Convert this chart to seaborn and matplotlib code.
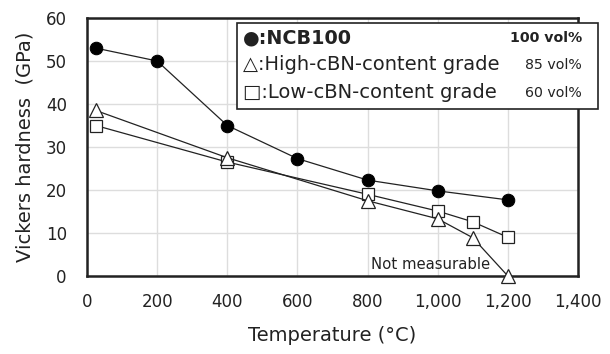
import matplotlib
matplotlib.use("Agg")
import matplotlib.pyplot as plt
import seaborn as sns
import pandas as pd
from matplotlib.patches import Rectangle

# Data
ncb_x = [25, 200, 400, 600, 800, 1000, 1200]
ncb_y = [53, 50, 35, 27.3, 22.3, 19.8, 17.7]
high_x = [25, 400, 800, 1000, 1100, 1200]
high_y = [38.5, 27.5, 17.5, 13.3, 8.9, 0]
low_x = [25, 400, 800, 1000, 1100, 1200]
low_y = [35, 26.5, 19, 15.1, 12.6, 9]
x_ticks = [0, 200, 400, 600, 800, 1000, 1200, 1400]
x_ticklabels = ["0", "200", "400", "600", "800", "1,000", "1,200", "1,400"]
y_ticks = [0, 10, 20, 30, 40, 50, 60]

sns.set_theme(style="white")
plt.rcParams['font.family'] = ['DejaVu Sans']

fig = plt.figure(figsize=(6.1, 3.54), dpi=100)
ax = fig.add_axes([87/610, 1-276/354, (578-87)/610, (276-18)/354])

ax.set_axisbelow(True)
ax.grid(True, color="#dddddd", linewidth=1.0)

df_ncb = pd.DataFrame({"x": ncb_x, "y": ncb_y})
df_high = pd.DataFrame({"x": high_x, "y": high_y})
df_low = pd.DataFrame({"x": low_x, "y": low_y})

sns.lineplot(data=df_low, x="x", y="y", ax=ax, color="#222222", linewidth=0.9,
             marker="s", markersize=9, markerfacecolor="white",
             markeredgecolor="#222222", markeredgewidth=0.9, clip_on=False, zorder=3)
sns.lineplot(data=df_high, x="x", y="y", ax=ax, color="#222222", linewidth=0.9,
             marker="^", markersize=9.5, markerfacecolor="white",
             markeredgecolor="#222222", markeredgewidth=0.9, clip_on=False, zorder=4)
sns.lineplot(data=df_ncb, x="x", y="y", ax=ax, color="#222222", linewidth=0.9,
             marker="o", markersize=9, markerfacecolor="black",
             markeredgecolor="black", clip_on=False, zorder=5)

ax.set_xlim(0, 1400)
ax.set_ylim(0, 60)
ax.set_xticks(x_ticks)
ax.set_xticklabels(x_ticklabels)
ax.set_yticks(y_ticks)
ax.tick_params(axis="both", length=0, labelsize=12, colors="#222222")
ax.tick_params(axis="x", pad=12)
ax.tick_params(axis="y", pad=14.5)
for s in ax.spines.values():
    s.set_color("#222222")
    s.set_linewidth(1.8)

ax.set_xlabel("Temperature (°C)", fontsize=14, color="#222222", labelpad=11)
ax.set_ylabel("Vickers hardness  (GPa)", fontsize=14, color="#222222", labelpad=8)

ax.text(980, 2.6, "Not measurable", fontsize=10.7, color="#222222", ha="center", va="center")

# Custom legend box (extends beyond the axes)
fig.patches.append(Rectangle((237/610, 1-109/354), (598-237)/610, (109-23)/354,
                             transform=fig.transFigure, facecolor="white",
                             edgecolor="#222222", linewidth=1.2, zorder=10))
rows = [(38, "●:NCB100", "100 vol%", "bold", 13.8),
        (65, "△:High-cBN-content grade", "85 vol%", "normal", 14),
        (93, "□:Low-cBN-content grade", "60 vol%", "normal", 14)]
for y, label, vol, w, fs in rows:
    fig.text(243/610, 1-y/354, label, fontsize=fs, fontweight=w, color="#222222",
             ha="left", va="center", zorder=11)
    fig.text(582/610, 1-y/354, vol, fontsize=10.2, fontweight=w, color="#222222",
             ha="right", va="center", zorder=11)

fig.savefig("out.png", dpi=100)
